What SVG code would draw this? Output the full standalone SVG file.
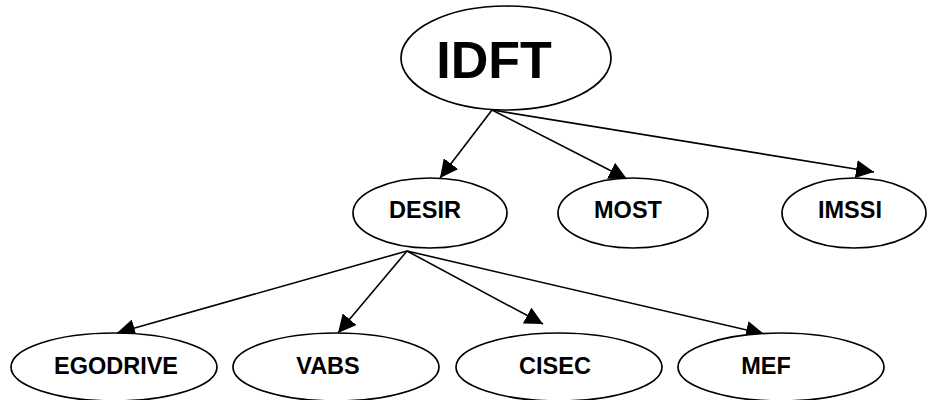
<svg xmlns="http://www.w3.org/2000/svg" width="927" height="400" viewBox="0 0 927 400">
  <style>
    .node ellipse { fill: #ffffff; stroke: #000000; stroke-width: 1.7; }
    .node text { font-family: "Liberation Sans", Arial, sans-serif; font-weight: bold; fill: #000000; text-anchor: middle; }
    .lbl { font-size: 23.5px; }
    .root { font-size: 52px; }
    .edges line { stroke: #000000; stroke-width: 1.6; marker-end: url(#arrow); }
  </style>
  <defs>
    <marker id="arrow" markerUnits="userSpaceOnUse" viewBox="0 0 18 18" markerWidth="18" markerHeight="18" refX="18" refY="9" orient="auto">
      <path d="M0,0 L18,9 L0,18 z" fill="#000000"/>
    </marker>
  </defs>
  <rect width="927" height="400" fill="#ffffff"/>

  <g class="edges">
    <line x1="492" y1="110" x2="440" y2="178"/>
    <line x1="492" y1="110" x2="627" y2="179"/>
    <line x1="492" y1="110" x2="874" y2="172"/>
    <line x1="407" y1="251" x2="117" y2="333"/>
    <line x1="407" y1="251" x2="338" y2="333"/>
    <line x1="407" y1="251" x2="543" y2="324"/>
    <line x1="407" y1="251" x2="764" y2="334"/>
  </g>

  <g id="idft" class="node">
    <ellipse cx="506" cy="58" rx="105" ry="52"/>
    <text class="root" x="494" y="78">IDFT</text>
  </g>
  <g id="desir" class="node">
    <ellipse cx="430" cy="213" rx="77" ry="35"/>
    <text class="lbl" x="425" y="218">DESIR</text>
  </g>
  <g id="most" class="node">
    <ellipse cx="633" cy="213" rx="75" ry="35"/>
    <text class="lbl" x="628" y="218">MOST</text>
  </g>
  <g id="imssi" class="node">
    <ellipse cx="854" cy="213" rx="72" ry="35"/>
    <text class="lbl" x="850" y="218">IMSSI</text>
  </g>
  <g id="egodrive" class="node">
    <ellipse cx="114" cy="367" rx="103" ry="34"/>
    <text class="lbl" x="116" y="374">EGODRIVE</text>
  </g>
  <g id="vabs" class="node">
    <ellipse cx="336" cy="367" rx="103" ry="34"/>
    <text class="lbl" x="328" y="374">VABS</text>
  </g>
  <g id="cisec" class="node">
    <ellipse cx="559" cy="367" rx="103" ry="34"/>
    <text class="lbl" x="555" y="374">CISEC</text>
  </g>
  <g id="mef" class="node">
    <ellipse cx="781" cy="367" rx="103" ry="34"/>
    <text class="lbl" x="766" y="374">MEF</text>
  </g>
</svg>
